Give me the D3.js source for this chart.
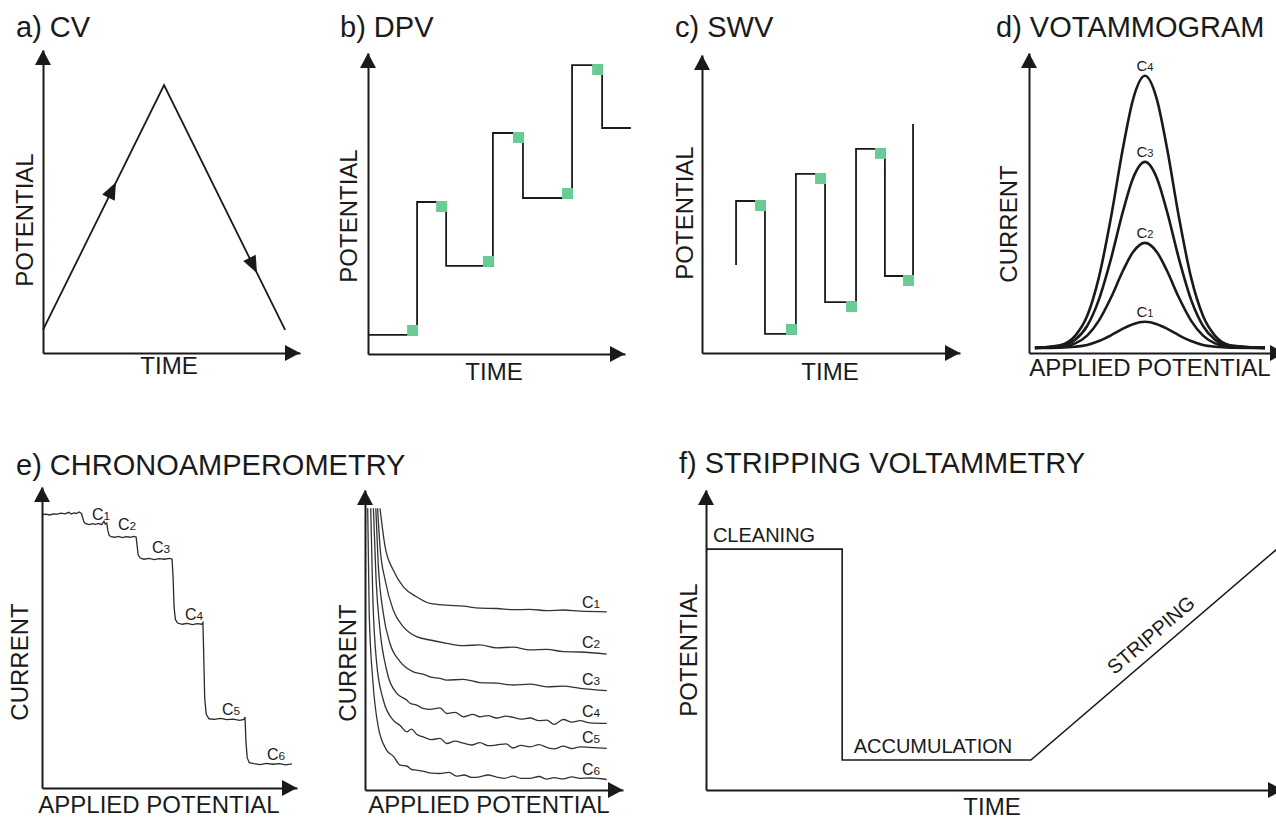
<!DOCTYPE html>
<html>
<head>
<meta charset="utf-8">
<script src="https://cdn.jsdelivr.net/npm/d3@7"></script>
<style>
  body { margin: 0; background: #fff; }
  svg { display: block; font-family: "Liberation Sans", Arial, Helvetica, sans-serif; }
</style>
</head>
<body>
<svg id="chart" width="1276" height="819"></svg>
<script>
// ---------------- data (arbitrary units) ----------------
// a) CV - triangular sweep
var cvTime = [0, 4.71, 9.42];
var cvPotential = [0.76, 8.84, 0.76];

// b) DPV - staircase with pulses
var dpvTime = [0, 1.91, 3.04, 4.86, 6.03, 7.94, 9.11, 10.23];
var dpvPotential = [0.76, 6.06, 3.51, 8.81, 6.22, 11.52, 9.01, 9.01];

// c) SWV - square wave on a staircase
var swvTime = [1.32, 1.32, 2.44, 3.64, 4.77, 5.97, 7.09, 8.18];
var swvPotential = [3.54, 6.12, 0.77, 7.21, 2.05, 8.22, 3.10, 9.22];
var swvMarkAbove = [false, true, false, false, false, false];

// d) voltammogram peaks for four concentrations
var vgPotential = [0.23, 1.21, 1.80, 2.27, 2.73, 3.20, 3.67, 4.06, 4.53, 5.00, 5.39, 5.86, 6.33, 6.80, 7.27, 7.85, 9.22];
var vgC1 = [0.17, 0.18, 0.21, 0.27, 0.40, 0.59, 0.81, 0.96, 1.04, 0.96, 0.81, 0.59, 0.40, 0.27, 0.21, 0.18, 0.17];
var vgC2 = [0.17, 0.21, 0.32, 0.58, 1.08, 1.84, 2.74, 3.36, 3.67, 3.36, 2.74, 1.84, 1.08, 0.58, 0.32, 0.21, 0.17];
var vgC3 = [0.17, 0.23, 0.44, 0.90, 1.78, 3.13, 4.72, 5.82, 6.37, 5.82, 4.72, 3.13, 1.78, 0.90, 0.44, 0.23, 0.17];
var vgC4 = [0.17, 0.26, 0.57, 1.23, 2.52, 4.51, 6.83, 8.44, 9.24, 8.44, 6.83, 4.51, 2.52, 1.23, 0.57, 0.26, 0.17];
var vgSeries = [vgC1, vgC2, vgC3, vgC4];

// e) chronoamperometry, left: stepped trace [potential, current]
var caTrace = [
  [0,90.8],[1.5,91.0],[3,90.7],[4.5,91.1],[6,91.0],[7.5,91.3],[9,91.1],[10.5,91.6],[11.5,91.0],[12.5,91.4],[13.5,91.2],[14.5,91.7],[15.5,91.2],
  [16.0,89.6],[16.5,88.3],[17.2,87.8],
  [18.5,87.5],[19.8,87.8],[21,87.6],[22.2,87.9],[23.4,87.5],[24.3,88.6],[24.8,87.7],[25.4,88.0],
  [25.8,85.6],[26.3,84.0],[27.0,83.5],
  [28.5,83.3],[30,83.6],[31.5,83.2],[33,83.5],[34.5,83.3],[36,83.6],[36.9,83.4],
  [37.3,80.5],[37.7,77.5],[38.5,76.4],
  [40,76.0],[42,76.3],[44,75.9],[46,76.2],[48,76.0],[50,76.3],[51,76.1],
  [51.4,70],[51.8,60],[52.3,56],[53.2,54.8],
  [55,54.4],[57,54.7],[59,54.3],[61,54.6],[62.6,54.4],[63.1,55.0],
  [63.4,45],[63.8,30],[64.4,24.5],[65.5,23.0],
  [67.5,22.8],[70,23.1],[72.5,22.7],[75,22.9],[77.5,22.5],[79.2,22.8],[79.6,23.6],
  [80.0,15],[80.5,10],[81.3,8.4],
  [83,8.1],[85.5,7.8],[88,8.2],[90.5,7.9],[93,8.1],[95.5,7.7],[98,8.0]
];
var caLabelT = [19.6, 29.8, 43.1, 56.1, 70.6, 88.2];
var caLabelI = [89.0, 85.7, 78.1, 55.8, 24.3, 9.3];

// e) chronoamperometry, right: decay transients
var ctC1 = [[5.0,93.9],[6.7,81.1],[9.4,73.3],[12.8,67.7],[17.2,64.4],[21.7,62.2],[27.2,61.6],[32.8,61.3],[38.3,60.6],[43.9,60.5],[49.4,60.1],[55,60.2],[60.6,59.8],[66.1,60.0],[71.7,59.6],[80.6,59.4]];
var ctC2 = [[4.2,93.9],[5.0,81.1],[6.7,70],[9.4,60],[12.8,54.4],[17.2,51.1],[21.7,50],[27.2,48.9],[32.8,48.1],[38.3,48.4],[43.9,47.4],[49.4,47.6],[55,46.7],[60.6,46.9],[66.1,46.1],[71.7,46.0],[80.6,45.3]];
var ctC3 = [[3.6,93.9],[4.4,75.5],[6.1,58.9],[8.3,48.9],[11.7,42.8],[16.1,39.4],[19.4,38.6],[21.7,37.7],[25,37.2],[27.2,36.6],[32.8,36.9],[38.3,35.8],[43.9,35.6],[49.4,35],[55,35.3],[60.6,34.4],[66.1,34.6],[71.7,33.9],[80.6,33.1]];
var ctC4 = [[2.8,93.9],[3.7,70],[5.0,53.3],[7.2,40],[10.6,32.2],[13.9,30.0],[15.0,28.9],[17.2,28.3],[19.4,27.2],[21.7,26.9],[25,27.4],[27.2,25.5],[30,25.9],[32.8,24.4],[36,25.2],[38.3,24.4],[41,24.8],[43.9,24.0],[47,24.6],[49.4,24.2],[52,23.6],[55,24.0],[58,23.1],[60.6,23.3],[63,21.9],[66.1,23.5],[69,22.6],[71.7,23.1],[75,22.4],[80.6,22.2]];
var ctC5 = [[1.9,93.9],[2.6,64.4],[3.9,42.2],[6.1,30],[9.4,23.3],[11.7,21.5],[13.9,19.4],[15.5,20.3],[17.2,18.6],[19.4,17.7],[22,16.8],[25,17.2],[27.2,15.5],[30,16.3],[32.8,15.6],[35.5,15.0],[38.3,15.8],[41,14.8],[43.9,15.0],[47,15.4],[49.4,14.0],[52,14.9],[55,14.4],[58,15.1],[60.6,14.2],[63,13.7],[66.1,14.6],[69,13.8],[71.7,14.4],[75,14.2],[80.6,13.9]];
var ctC6 = [[0.9,93.9],[1.4,58.9],[2.6,36.6],[4.4,21.1],[7.2,13.3],[9.5,11.2],[11.7,8.3],[13.9,8.0],[15.5,6.9],[17.2,6.6],[20,6.1],[22,5.6],[25,5.5],[28,5.9],[30.5,4.6],[33,5.0],[35.5,4.2],[38.3,4.4],[41,5.0],[43.9,4.3],[46.5,3.9],[49.4,4.6],[52,3.9],[55,3.9],[58,4.5],[60.6,3.6],[63,4.1],[66.1,3.7],[69,4.4],[71.7,3.9],[75,4.0],[80.6,3.5]];
var ctSeries = [ctC1, ctC2, ctC3, ctC4, ctC5, ctC6];
var ctLabelT = 72.3;
var ctLabelI = [60.7, 47.3, 35.0, 24.3, 15.7, 5.0];

// f) stripping voltammetry waveform
var swTime = [0, 2.36, 2.36, 5.63, 10.1];
var swPotential = [8.03, 8.03, 1.0, 1.0, 8.37];
var swStages = ["CLEANING", "ACCUMULATION", "STRIPPING"];

// ---------------- drawing ----------------
var ink = "#1a1a1a";
var green = "#6acb95";
var svg = d3.select("#chart");
svg.append("rect").attr("width", 1276).attr("height", 819).attr("fill", "#fff");

// axes without ticks, ending in filled arrow heads at the range ends
function addAxes(g, x, y) {
  var x0 = x.range()[0], y0 = y.range()[0];
  var xTip = x.range()[1], yTip = y.range()[1];
  g.append("g")
    .attr("transform", "translate(0," + y0 + ")")
    .call(d3.axisBottom(x).tickValues([]).tickSizeOuter(0));
  g.append("g")
    .attr("transform", "translate(" + x0 + ",0)")
    .call(d3.axisLeft(y).tickValues([]).tickSizeOuter(0));
  g.selectAll(".domain").attr("stroke", ink).attr("stroke-width", 2);
  g.append("path").attr("d", "M" + xTip + "," + y0 + "l-15,-8v16z").attr("fill", ink);
  g.append("path").attr("d", "M" + x0 + "," + yTip + "l-8,15h16z").attr("fill", ink);
}

function title(x, y, txt) {
  svg.append("text").attr("x", x).attr("y", y)
    .attr("font-size", 29).attr("fill", ink).text(txt);
}

function xLabel(x, y, txt) {
  svg.append("text").attr("x", x).attr("y", y)
    .attr("text-anchor", "middle").attr("font-size", 24).attr("fill", ink).text(txt);
}

function yLabel(x, y, txt) {
  svg.append("text")
    .attr("transform", "translate(" + x + "," + y + ") rotate(-90)")
    .attr("text-anchor", "middle").attr("font-size", 24).attr("fill", ink).text(txt);
}

// "C" with a smaller index number
function cLabel(g, x, y, n, size, anchor) {
  var t = g.append("text").attr("x", x).attr("y", y)
    .attr("text-anchor", anchor || "start").attr("font-size", size).attr("fill", ink);
  t.append("tspan").text("C");
  t.append("tspan").attr("font-size", size * 0.74).text(n);
}

// green sampling marks sitting inside each corner of a step waveform
function addMarks(g, x, y, t, v, above) {
  var corners = [];
  for (var i = 1; i < t.length; i++) {
    if (t[i] > t[i - 1] && v[i] != v[i - 1]) corners.push({ t: t[i], v: v[i - 1], up: v[i] > v[i - 1] });
  }
  if (above) corners.forEach(function(d, i) { d.up = above[i]; });
  g.selectAll(".mark").data(corners).enter().append("rect")
    .attr("x", function(d) { return x(d.t) - 10; })
    .attr("y", function(d) { return d.up ? y(d.v) - 10 : y(d.v) - 1; })
    .attr("width", 11).attr("height", 11)
    .attr("fill", green);
}

// ---- a) CV
var ga = svg.append("g");
var xa = d3.scaleLinear().domain([0, 10]).range([43, 300]);
var ya = d3.scaleLinear().domain([0, 10]).range([353, 50]);
addAxes(ga, xa, ya);
var cvPts = cvTime.map(function(t, i) { return [xa(t), ya(cvPotential[i])]; });
ga.append("path")
  .attr("d", d3.line()(cvPts))
  .attr("fill", "none").attr("stroke", ink).attr("stroke-width", 1.8);
// direction arrows on both branches
[[0, 0.57], [1, 0.735]].forEach(function(s) {
  var p = cvPts[s[0]], q = cvPts[s[0] + 1];
  var cx = p[0] + (q[0] - p[0]) * s[1], cy = p[1] + (q[1] - p[1]) * s[1];
  var ang = Math.atan2(q[1] - p[1], q[0] - p[0]) * 180 / Math.PI;
  ga.append("path").attr("d", "M9,0L-8,-7L-8,7Z")
    .attr("transform", "translate(" + cx + "," + cy + ") rotate(" + ang + ")")
    .attr("fill", ink);
});
title(16, 37, "a) CV");
xLabel(169, 374, "TIME");
yLabel(33, 220, "POTENTIAL");

// ---- b) DPV
var gb = svg.append("g");
var xb = d3.scaleLinear().domain([0, 10]).range([368, 625]);
var yb = d3.scaleLinear().domain([0, 12]).range([354, 53]);
addAxes(gb, xb, yb);
gb.append("path")
  .attr("d", d3.line().curve(d3.curveStepAfter)
    .x(function(d) { return xb(d); })
    .y(function(d, i) { return yb(dpvPotential[i]); })(dpvTime))
  .attr("fill", "none").attr("stroke", ink).attr("stroke-width", 1.8);
addMarks(gb, xb, yb, dpvTime, dpvPotential);
title(340, 37, "b) DPV");
xLabel(494, 380, "TIME");
yLabel(357, 216, "POTENTIAL");

// ---- c) SWV
var gc = svg.append("g");
var xc = d3.scaleLinear().domain([0, 10]).range([702, 960]);
var yc = d3.scaleLinear().domain([0, 12]).range([353, 55]);
addAxes(gc, xc, yc);
gc.append("path")
  .attr("d", d3.line().curve(d3.curveStepAfter)
    .x(function(d) { return xc(d); })
    .y(function(d, i) { return yc(swvPotential[i]); })(swvTime))
  .attr("fill", "none").attr("stroke", ink).attr("stroke-width", 1.8);
addMarks(gc, xc, yc, swvTime, swvPotential, swvMarkAbove);
title(675, 37, "c) SWV");
xLabel(830, 380, "TIME");
yLabel(693, 213, "POTENTIAL");

// ---- d) voltammogram
var gd = svg.append("g");
var xd = d3.scaleLinear().domain([0, 10]).range([1029, 1285]);
var yd = d3.scaleLinear().domain([0, 10]).range([353, 53]);
addAxes(gd, xd, yd);
var vgLine = d3.line().curve(d3.curveMonotoneX)
  .x(function(d, i) { return xd(vgPotential[i]); })
  .y(function(d) { return yd(d); });
gd.selectAll(".peak").data(vgSeries).enter().append("path")
  .attr("d", vgLine)
  .attr("fill", "none").attr("stroke", ink).attr("stroke-width", 2.6);
vgSeries.forEach(function(s, i) {
  var k = d3.maxIndex(s);
  cLabel(gd, xd(vgPotential[k]), yd(s[k]) - 5, i + 1, 15, "middle");
});
title(996, 37, "d) VOTAMMOGRAM");
xLabel(1150, 376, "APPLIED POTENTIAL");
yLabel(1017, 224, "CURRENT");

// ---- e) chronoamperometry, left
var ge = svg.append("g");
var xe = d3.scaleLinear().domain([0, 100]).range([42, 297]);
var ye = d3.scaleLinear().domain([0, 100]).range([788, 487]);
addAxes(ge, xe, ye);
ge.append("path")
  .attr("d", d3.line().x(function(d) { return xe(d[0]); }).y(function(d) { return ye(d[1]); })(caTrace))
  .attr("fill", "none").attr("stroke", "#2a2a2a").attr("stroke-width", 1.3);
caLabelT.forEach(function(t, i) {
  cLabel(ge, xe(t), ye(caLabelI[i]), i + 1, 16);
});
title(16, 475, "e) CHRONOAMPEROMETRY");
xLabel(159, 813, "APPLIED POTENTIAL");
yLabel(28, 662, "CURRENT");

// ---- e) chronoamperometry, right
var gr = svg.append("g");
var xr = d3.scaleLinear().domain([0, 86]).range([365, 623]);
var yr = d3.scaleLinear().domain([0, 100]).range([790, 490]);
addAxes(gr, xr, yr);
var ctLine = d3.line().curve(d3.curveMonotoneX)
  .x(function(d) { return xr(d[0]); })
  .y(function(d) { return yr(d[1]); });
gr.selectAll(".transient").data(ctSeries).enter().append("path")
  .attr("d", ctLine)
  .attr("fill", "none").attr("stroke", "#333").attr("stroke-width", 1.3);
ctLabelI.forEach(function(v, i) {
  cLabel(gr, xr(ctLabelT), yr(v), i + 1, 16);
});
xLabel(489, 813, "APPLIED POTENTIAL");
yLabel(356, 663, "CURRENT");

// ---- f) stripping voltammetry
var gf = svg.append("g");
var xf = d3.scaleLinear().domain([0, 10]).range([706, 1283]);
var yf = d3.scaleLinear().domain([0, 10]).range([790, 490]);
addAxes(gf, xf, yf);
gf.append("path")
  .attr("d", d3.line().x(function(d) { return xf(d); }).y(function(d, i) { return yf(swPotential[i]); })(swTime))
  .attr("fill", "none").attr("stroke", ink).attr("stroke-width", 1.6);
gf.append("text").attr("x", xf(0.12)).attr("y", yf(8.27))
  .attr("font-size", 20).attr("fill", ink).text(swStages[0]);
gf.append("text").attr("x", xf(2.56)).attr("y", yf(1.23))
  .attr("font-size", 20).attr("fill", ink).text(swStages[1]);
var rampAng = Math.atan2(yf(swPotential[4]) - yf(swPotential[3]), xf(swTime[4]) - xf(swTime[3])) * 180 / Math.PI;
gf.append("text")
  .attr("transform", "translate(" + xf(7.71) + "," + yf(5.17) + ") rotate(" + rampAng + ")")
  .attr("text-anchor", "middle").attr("dy", "0.35em")
  .attr("font-size", 20).attr("fill", ink).text(swStages[2]);
title(679, 473, "f) STRIPPING VOLTAMMETRY");
xLabel(992, 815, "TIME");
yLabel(697, 650, "POTENTIAL");
</script>
</body>
</html>
